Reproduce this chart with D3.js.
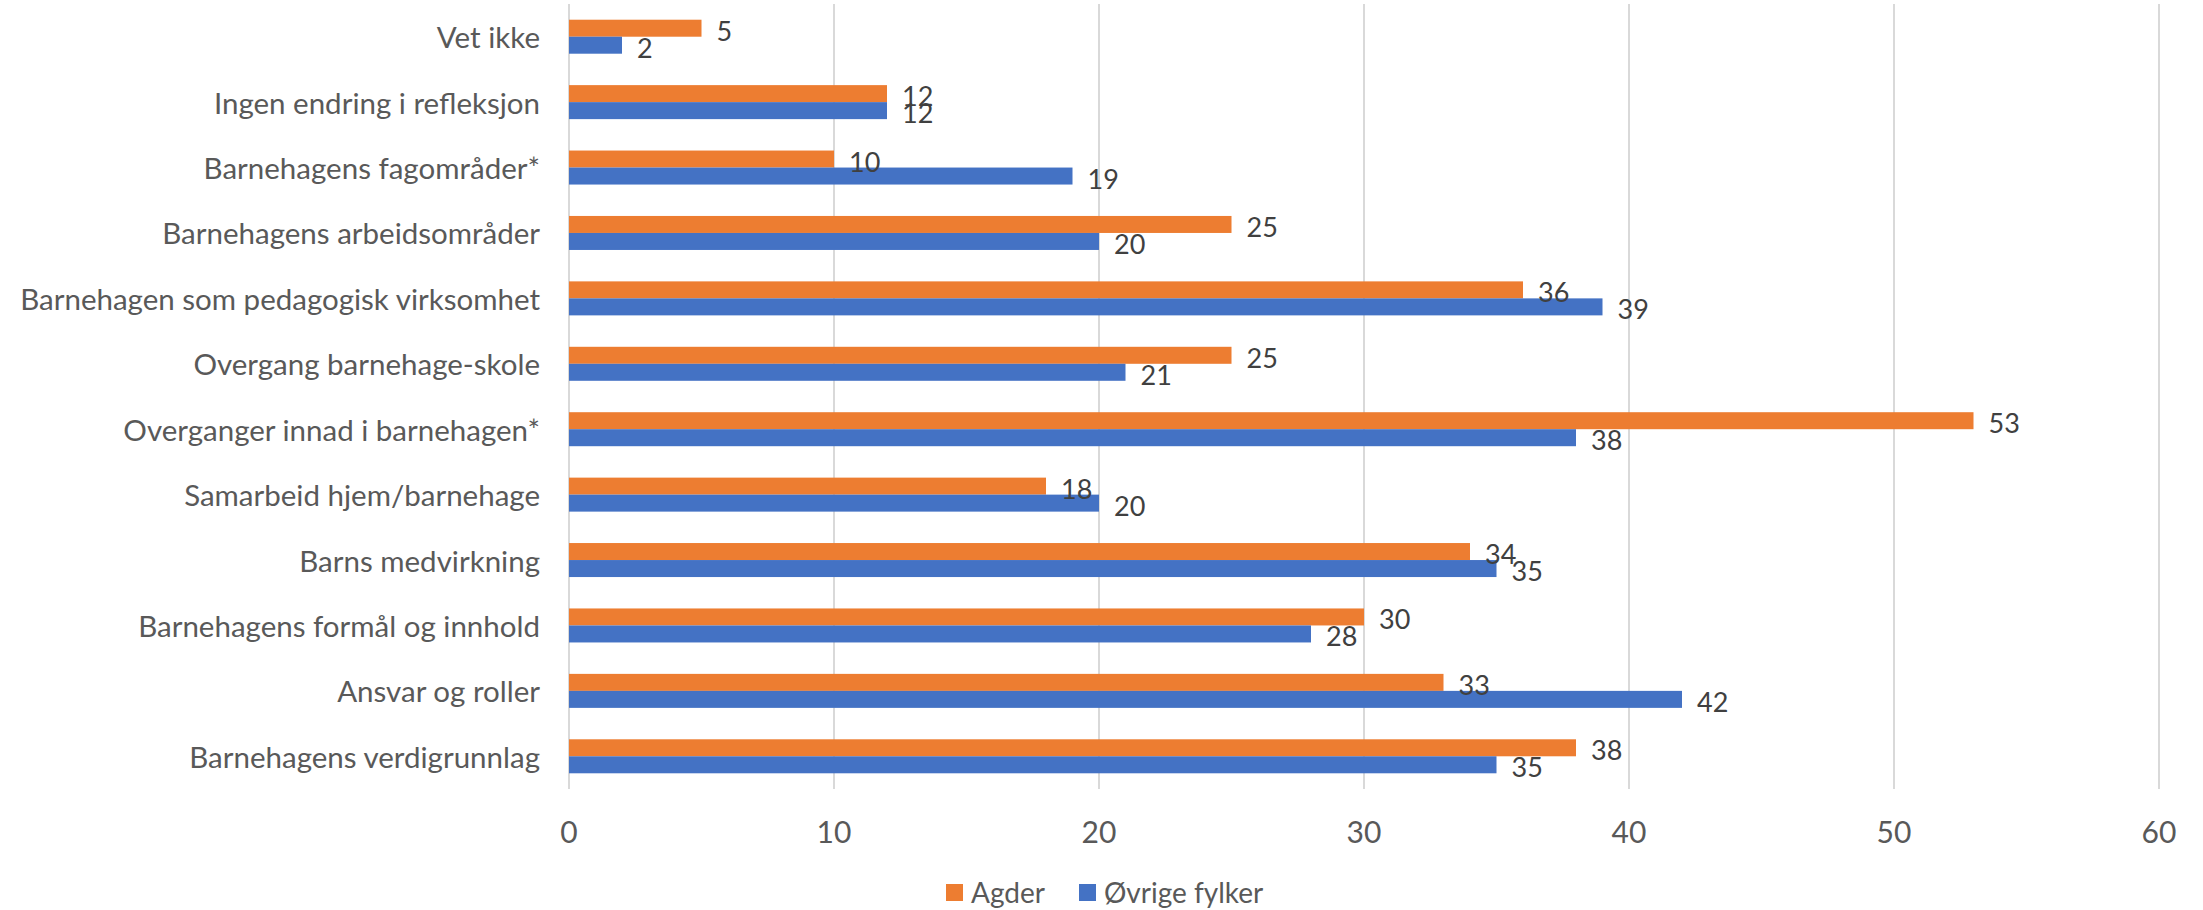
<!DOCTYPE html>
<html>
<head>
<meta charset="utf-8">
<script src="https://cdn.jsdelivr.net/npm/d3@7"></script>
<style>
  html, body { margin: 0; padding: 0; background: #fff; }
  svg { display: block; font-family: Lato, "Open Sans", sans-serif; }
</style>
</head>
<body>
<svg id="chart" width="2203" height="910"></svg>
<script>
// categories, top to bottom
const categories = [
  "Vet ikke",
  "Ingen endring i refleksjon",
  "Barnehagens fagområder*",
  "Barnehagens arbeidsområder",
  "Barnehagen som pedagogisk virksomhet",
  "Overgang barnehage-skole",
  "Overganger innad i barnehagen*",
  "Samarbeid hjem/barnehage",
  "Barns medvirkning",
  "Barnehagens formål og innhold",
  "Ansvar og roller",
  "Barnehagens verdigrunnlag"
];

const agder = [5, 12, 10, 25, 36, 25, 53, 18, 34, 30, 33, 38];
const ovrige = [2, 12, 19, 20, 39, 21, 38, 20, 35, 28, 42, 35];

const seriesNames = ["Agder", "Øvrige fylker"];
const xTicks = [0, 10, 20, 30, 40, 50, 60];

const colors = { "Agder": "#ED7D31", "Øvrige fylker": "#4472C4" };

const svg = d3.select("#chart");

const plot = { left: 569, right: 2159, top: 4, bottom: 789 };

const x = d3.scaleLinear().domain([0, 60]).range([plot.left, plot.right]);
const y = d3.scaleBand().domain(categories).range([plot.top, plot.bottom]).padding(0);

// inner band for the two series, 17px bars centred in each band
const barH = 17;
const inner = d3.scaleBand().domain(seriesNames)
  .range([(y.bandwidth() - 2 * barH) / 2, (y.bandwidth() + 2 * barH) / 2]);

// gridlines
svg.append("g")
  .selectAll("line")
  .data(xTicks)
  .join("line")
  .attr("x1", d => x(d)).attr("x2", d => x(d))
  .attr("y1", plot.top).attr("y2", plot.bottom)
  .attr("stroke", "#d9d9d9")
  .attr("stroke-width", 2);

// x tick labels
svg.append("g")
  .selectAll("text")
  .data(xTicks)
  .join("text")
  .attr("x", d => x(d))
  .attr("y", 831)
  .attr("text-anchor", "middle")
  .attr("dominant-baseline", "central")
  .attr("fill", "#595959")
  .style("font-size", "30px")
  .text(d => d);

// category labels
svg.append("g")
  .selectAll("text")
  .data(categories)
  .join("text")
  .attr("x", 540)
  .attr("y", d => y(d) + y.bandwidth() / 2)
  .attr("text-anchor", "end")
  .attr("dominant-baseline", "central")
  .attr("fill", "#595959")
  .style("font-size", "29.5px")
  .text(d => d);

// bars
const rows = categories.map((c, i) => ({ cat: c, vals: [
  { s: "Agder", v: agder[i] },
  { s: "Øvrige fylker", v: ovrige[i] }
] }));

const groups = svg.append("g")
  .selectAll("g")
  .data(rows)
  .join("g")
  .attr("transform", d => `translate(0,${y(d.cat)})`);

groups.selectAll("rect")
  .data(d => d.vals)
  .join("rect")
  .attr("x", x(0))
  .attr("y", d => inner(d.s))
  .attr("width", d => x(d.v) - x(0))
  .attr("height", inner.bandwidth())
  .attr("fill", d => colors[d.s]);

// value labels
groups.selectAll("text")
  .data(d => d.vals)
  .join("text")
  .attr("x", d => x(d.v) + 15)
  .attr("y", d => inner(d.s) + inner.bandwidth() / 2 + 2)
  .attr("dominant-baseline", "central")
  .attr("fill", "#404040")
  .style("font-size", "27px")
  .text(d => d.v);

// legend
const legendPos = [946, 1079];
const legend = svg.append("g")
  .selectAll("g")
  .data(seriesNames)
  .join("g")
  .attr("transform", (d, i) => `translate(${legendPos[i]},884)`);

legend.append("rect")
  .attr("width", 17).attr("height", 17)
  .attr("fill", d => colors[d]);

legend.append("text")
  .attr("x", 25)
  .attr("y", 8)
  .attr("dominant-baseline", "central")
  .attr("fill", "#595959")
  .style("font-size", "28px")
  .text(d => d);
</script>
</body>
</html>
